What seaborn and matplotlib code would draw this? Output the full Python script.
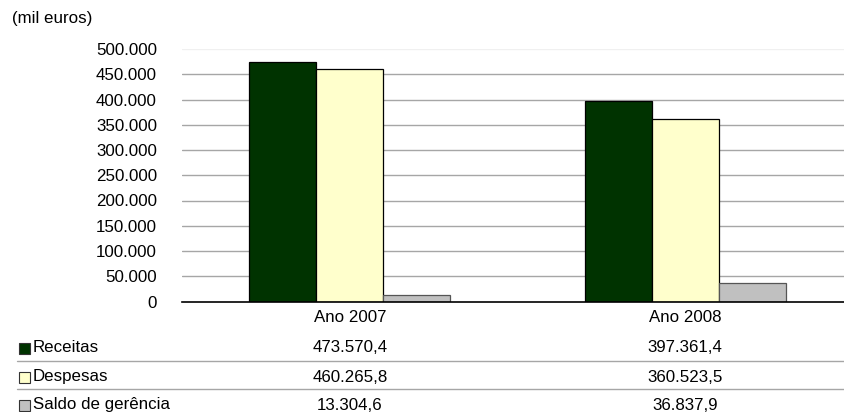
import matplotlib
matplotlib.use("Agg")
import matplotlib.pyplot as plt
from matplotlib.patches import Rectangle
import seaborn as sns
import pandas as pd

# Data (mil euros)
anos = ["Ano 2007", "Ano 2008"]
series = ["Receitas", "Despesas", "Saldo de gerência"]
receitas = [473570.4, 397361.4]
despesas = [460265.8, 360523.5]
saldo = [13304.6, 36837.9]
yticks = [0, 50000, 100000, 150000, 200000, 250000, 300000, 350000, 400000, 450000, 500000]
cores = ["#003300", "#FFFFCC", "#C0C0C0"]

df = pd.DataFrame({
    "ano": anos * 3,
    "serie": [s for s in series for _ in anos],
    "valor": receitas + despesas + saldo,
})

sns.set_theme(style="white")
plt.rcParams["font.family"] = ["Liberation Sans", "DejaVu Sans"]

W, H = 844, 412
fig = plt.figure(figsize=(W / 100, H / 100), dpi=100)

# axes placed in pixel terms
ax_left, ax_right = 182, 844
y_top, y_zero = 49, 301.5
ax = fig.add_axes([ax_left / W, 1 - y_zero / H, (ax_right - ax_left) / W, (y_zero - y_top) / H])

# gridlines
for t in yticks[1:-1]:
    ax.axhline(t, color="#A6A6A6", lw=1.0, zorder=0)
ax.axhline(yticks[-1], color="#F0F0F0", lw=1.0, zorder=0)

sns.barplot(data=df, x="ano", y="valor", hue="serie", hue_order=series,
            palette=cores, width=0.6, gap=0, saturation=1, legend=False,
            edgecolor="black", linewidth=0.9, ax=ax, zorder=2)
# gray bars get a dark gray outline
for p in ax.patches[4:6]:
    p.set_edgecolor("#555555")

ax.set_ylim(0, 500000)
ax.set_xlim(-0.5, 1.473)
ax.set_yticks(yticks)
ax.set_yticklabels([f"{v:,}".replace(",", ".") for v in yticks])
ax.tick_params(axis="y", labelsize=12.2, pad=18, length=0, colors="black")
ax.set_xticks([])
ax.set_xlabel("")
ax.set_ylabel("")
for s in ["top", "right", "left"]:
    ax.spines[s].set_visible(False)
ax.spines["bottom"].set_color("black")
ax.spines["bottom"].set_linewidth(1.2)

fs = 12.2

def fy(y):
    return 1 - y / H

def fx(x):
    return x / W

fig.text(fx(12), fy(19), "(mil euros)", fontsize=fs, va="center", ha="left", color="black")

# data table below the chart
xcentros = [ax.transData.transform((i, 0))[0] / fig.dpi / fig.get_figwidth() for i in range(len(anos))]
for xc, a in zip(xcentros, anos):
    fig.text(xc, fy(317), a, fontsize=fs, ha="center", va="center", color="black")

def fmt(v):
    s = f"{v:,.1f}"
    return s.replace(",", "X").replace(".", ",").replace("X", ".")

linhas_y = [348, 377, 405]
for yc, nome, vals, cor in zip(linhas_y, series, [receitas, despesas, saldo], cores):
    fig.patches.append(Rectangle((fx(19), fy(yc + 5.5)), 11 / W, 11 / H, transform=fig.transFigure,
                                 facecolor=cor, edgecolor="#333333", lw=0.8))
    fig.text(fx(33), fy(yc), nome, fontsize=fs, ha="left", va="center", color="black")
    for xc, v in zip(xcentros, vals):
        fig.text(xc, fy(yc), fmt(v), fontsize=fs, ha="center", va="center", color="black")

for yl in [361, 389]:
    fig.add_artist(plt.Line2D([fx(17), 1], [fy(yl), fy(yl)], transform=fig.transFigure,
                              color="#A6A6A6", lw=1.0))

fig.savefig("out.png", dpi=100)
